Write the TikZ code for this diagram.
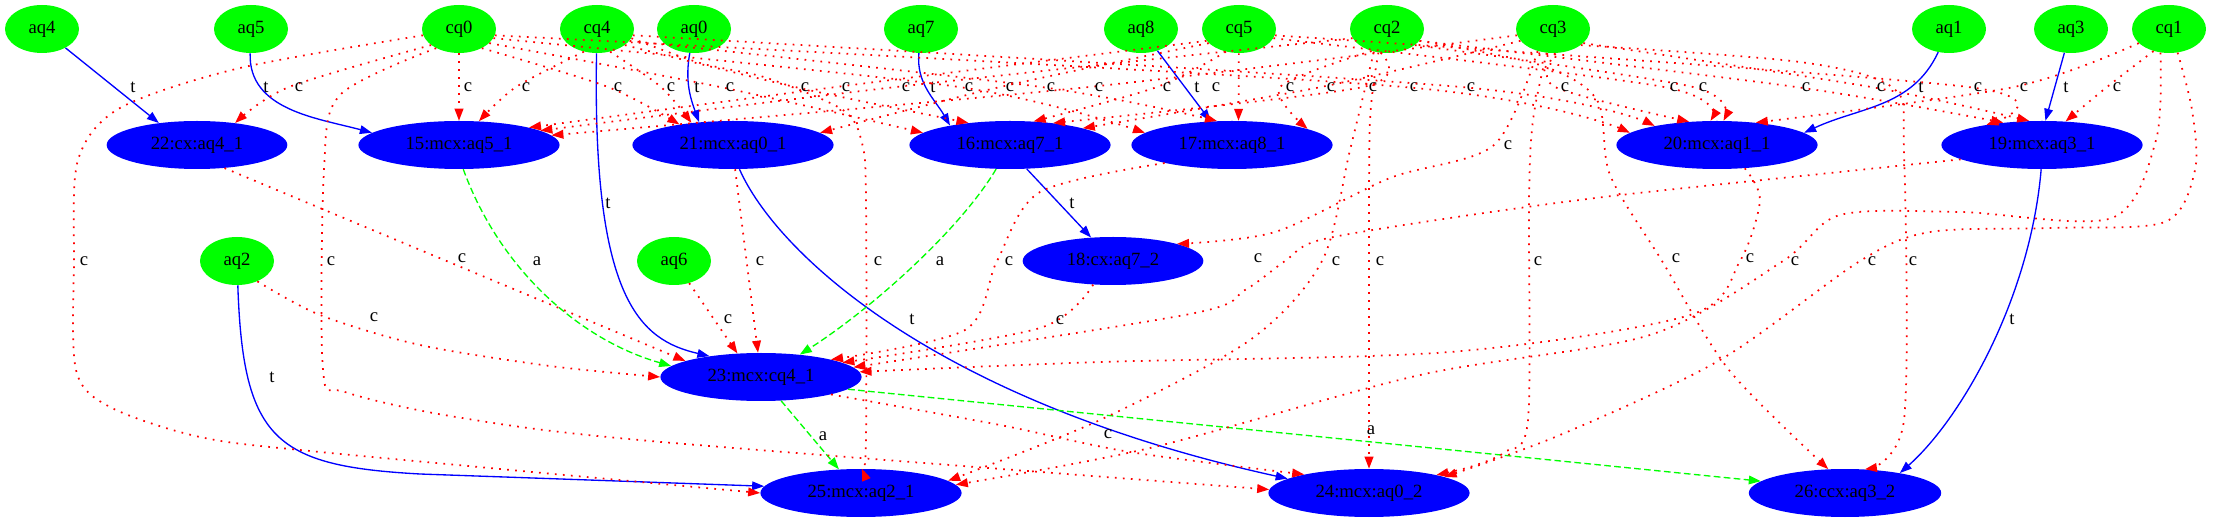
\documentclass[tikz,border=0pt]{standalone}
\usepackage{fontspec}
\setmainfont{Liberation Serif}
\usetikzlibrary{shapes.geometric,arrows.meta}
\begin{document}
\begin{tikzpicture}[x=0.75pt,y=-0.75pt,
    qnode/.style={ellipse,fill=green,minimum width=55.5pt,minimum height=36pt,inner sep=1pt,font=\fontsize{14}{16}\selectfont},
    gate/.style={ellipse,fill=blue,minimum height=36pt,inner xsep=13.3pt,inner ysep=1pt,font=\fontsize{14}{16}\selectfont},
    lab/.style={text=black,inner sep=0pt,font=\fontsize{14}{16}\selectfont},
    cl/.style={red,line width=1.3pt,dash pattern=on 1.3pt off 4.7pt,-{Triangle[length=9pt,width=6.5pt]}},
    tl/.style={blue,line width=1pt,-{Triangle[length=9pt,width=6.5pt]}},
    al/.style={green,line width=1pt,dash pattern=on 5pt off 2.5pt,-{Triangle[length=9pt,width=6.5pt]}}]
\useasboundingbox (0,0) rectangle (2219,523);
% qubits
\node[qnode] (aq4) at (42,29) {aq4};
\node[qnode] (aq5) at (251,29) {aq5};
\node[qnode] (cq0) at (459,29) {cq0};
\node[qnode] (cq4) at (597,29) {cq4};
\node[qnode] (aq0) at (694,29) {aq0};
\node[qnode] (aq7) at (921,29) {aq7};
\node[qnode] (aq8) at (1141,29) {aq8};
\node[qnode] (cq5) at (1239,29) {cq5};
\node[qnode] (cq2) at (1387,29) {cq2};
\node[qnode] (cq3) at (1553,29) {cq3};
\node[qnode] (aq1) at (1949,29) {aq1};
\node[qnode] (aq3) at (2071,29) {aq3};
\node[qnode] (cq1) at (2169,29) {cq1};
\node[qnode] (aq2) at (237,261) {aq2};
\node[qnode] (aq6) at (674,261) {aq6};
% gates
\node[gate] (g22) at (197,145) {22:cx:aq4\_1};
\node[gate] (g15) at (459,145) {15:mcx:aq5\_1};
\node[gate] (g21) at (733,145) {21:mcx:aq0\_1};
\node[gate] (g16) at (1010,145) {16:mcx:aq7\_1};
\node[gate] (g17) at (1232,145) {17:mcx:aq8\_1};
\node[gate] (g20) at (1717,145) {20:mcx:aq1\_1};
\node[gate] (g19) at (2042,145) {19:mcx:aq3\_1};
\node[gate] (g18) at (1113,261) {18:cx:aq7\_2};
\node[gate] (g23) at (761,377) {23:mcx:cq4\_1};
\node[gate] (g25) at (861,493) {25:mcx:aq2\_1};
\node[gate] (g24) at (1369,493) {24:mcx:aq0\_2};
\node[gate] (g26) at (1845,493) {26:ccx:aq3\_2};
% targets
\draw[tl] (aq4) -- (g22.150) node[lab] at (133,87) {t};
\draw[tl] (aq5) to[out=-92,in=165] (g15.172) node[lab] at (266,87) {t};
\draw[tl] (aq0) to[out=-100,in=110] (g21.146) node[lab] at (697,87) {t};
\draw[tl] (aq7) to[out=-95,in=120] (g16.162) node[lab] at (933,87) {t};
\draw[tl] (aq8) -- (g17.132) node[lab] at (1197,87) {t};
\draw[tl] (aq1) to[out=-115,in=25] (g20.8) node[lab] at (1921,87) {t};
\draw[tl] (aq3) -- (g19.82) node[lab] at (2066,87) {t};
\draw[tl] (cq4) .. controls (592,300) and (640,340) .. (g23.158) node[lab] at (608,203) {t};
\draw[tl] (g16.-55) -- (g18.133) node[lab] at (1072,203) {t};
\draw[tl] (g21.-75) .. controls (775,250) and (930,400) .. (g24.170) node[lab] at (912,319) {t};
\draw[tl] (aq2) .. controls (243,440) and (275,466) .. (420,474) -- (g25.176) node[lab] at (272,377) {t};
\draw[tl] (g19.-92) .. controls (2030,300) and (1960,420) .. (g26.20) node[lab] at (2012,319) {t};
% ancillas
\draw[al] (g15.-80) .. controls (500,270) and (580,340) .. (g23.173) node[lab] at (537,261) {a};
\draw[al] (g16.-120) .. controls (960,230) and (870,310) .. (g23.30) node[lab] at (940,261) {a};
\draw[al] (g23) -- (g25.133) node[lab] at (823,436) {a};
\draw[al] (g23.-8) -- (g26.172) node[lab] at (1371,430) {a};
% controls to the first row
\draw[cl] plot[smooth] coordinates {(cq0.210) (289,87) (g22.30)} node[lab] at (299,87) {c};
\draw[cl] (cq0) -- (g15) node[lab] at (468,87) {c};
\draw[cl] plot[smooth] coordinates {(cq4.240) (516,87) (g15.50)} node[lab] at (526,87) {c};
\draw[cl] plot[smooth] coordinates {(cq0.320) (608,87) (g21.159)} node[lab] at (618,87) {c};
\draw[cl] plot[smooth] coordinates {(cq4.300) (661,87) (g21.152)} node[lab] at (671,87) {c};
\draw[cl] plot[smooth] coordinates {(cq0.335) (720,87) (g16.172)} node[lab] at (730,87) {c};
\draw[cl] plot[smooth] coordinates {(cq4.330) (795,87) (g16.152)} node[lab] at (805,87) {c};
\draw[cl] plot[smooth] coordinates {(cq5.200) (836,87) (g15.14)} node[lab] at (846,87) {c};
\draw[cl] plot[smooth] coordinates {(cq2.195) (896,87) (g15.10)} node[lab] at (906,87) {c};
\draw[cl] plot[smooth] coordinates {(cq0.345) (959,87) (g17.172)} node[lab] at (969,87) {c};
\draw[cl] plot[smooth] coordinates {(cq5.205) (1000,87) (g21.8)} node[lab] at (1010,87) {c};
\draw[cl] plot[smooth] coordinates {(cq4.340) (1041,87) (g17.122)} node[lab] at (1051,87) {c};
\draw[cl] plot[smooth] coordinates {(cq3.190) (1089,87) (g15.6)} node[lab] at (1099,87) {c};
\draw[cl] plot[smooth] coordinates {(cq5.240) (1157,87) (g16.45)} node[lab] at (1167,87) {c};
\draw[cl] (cq5) -- (g17.75) node[lab] at (1216,87) {c};
\draw[cl] plot[smooth] coordinates {(cq2.235) (1280,87) (g17.12)} node[lab] at (1290,87) {c};
\draw[cl] plot[smooth] coordinates {(cq3.200) (1321,87) (g16.13)} node[lab] at (1331,87) {c};
\draw[cl] plot[smooth] coordinates {(cq2.255) (1363,87) (g16.27)} node[lab] at (1373,87) {c};
\draw[cl] plot[smooth] coordinates {(cq0.350) (1404,87) (g20.172)} node[lab] at (1414,87) {c};
\draw[cl] plot[smooth] coordinates {(cq4.350) (1461,87) (g20.163)} node[lab] at (1471,87) {c};
\draw[cl] plot[smooth] coordinates {(cq3.275) (1555,87) (g20.140)} node[lab] at (1565,87) {c};
\draw[cl] plot[smooth] coordinates {(cq5.345) (1664,87) (g20.105)} node[lab] at (1674,87) {c};
\draw[cl] plot[smooth] coordinates {(cq2.330) (1693,87) (g20.75)} node[lab] at (1703,87) {c};
\draw[cl] plot[smooth] coordinates {(cq2.340) (1796,87) (g19.150)} node[lab] at (1806,87) {c};
\draw[cl] plot[smooth] coordinates {(cq3.335) (1871,87) (g19.118)} node[lab] at (1881,87) {c};
\draw[cl] plot[smooth] coordinates {(cq5.350) (1968,87) (g19.160)} node[lab] at (1978,87) {c};
\draw[cl] plot[smooth] coordinates {(cq1.205) (2014,87) (g20.30)} node[lab] at (2024,87) {c};
\draw[cl] plot[smooth] coordinates {(cq1.235) (2107,87) (g19.45)} node[lab] at (2117,87) {c};
\draw[cl] plot[smooth] coordinates {(cq3.235) (1494,145) (1390,178) (1275,232) (g18.15)} node[lab] at (1508,145) {c};
% long controls
\draw[cl] plot[smooth] coordinates {(cq0.190) (240,68) (120,108) (78,160) (74,260) (76,370) (110,407) (200,437) (320,452) (g25.180)} node[lab] at (84,261) {c};
\draw[cl] plot[smooth] coordinates {(cq0.220) (340,95) (324,170) (323,370) (345,392) (456,417) (650,441) (g24.178)} node[lab] at (331,261) {c};
\draw[cl] plot[smooth] coordinates {(cq4.345) (700,63) (767,78) (843,110) (862,143) (866,200) (866,440) (g25.88)} node[lab] at (878,261) {c};
\draw[cl] plot[smooth] coordinates {(cq2.250) (1370,120) (1369,261) (1369,400) (g24.90)} node[lab] at (1380,261) {c};
\draw[cl] plot[smooth] coordinates {(cq2.240) (1350,150) (1322,261) (1250,340) (1100,420) (g25.8)} node[lab] at (1336,261) {c};
\draw[cl] plot[smooth] coordinates {(cq3.255) (1533,120) (1529,200) (1528,420) (1505,452) (1470,467) (g24.15)} node[lab] at (1538,261) {c};
\draw[cl] plot[smooth] coordinates {(cq1.250) (2156,140) (2112,218) (1960,212) (1840,215) (1783,261) (1650,335) (1420,375) (1150,448) (g25.5)} node[lab] at (1795,261) {c};
\draw[cl] plot[smooth] coordinates {(cq1.290) (2192,110) (2195,170) (2165,222) (2050,228) (1930,232) (1860,261) (1720,360) (1560,435) (g24.12)} node[lab] at (1872,261) {c};
\draw[cl] plot[smooth] coordinates {(cq2.340) (1540,65) (1597,100) (1610,175) (1662,261) (1729,370) (g26.125)} node[lab] at (1676,258) {c};
\draw[cl] plot[smooth] coordinates {(cq3.330) (1800,62) (1893,88) (1904,150) (1904,420) (g26.50)} node[lab] at (1913,261) {c};
% gate outputs as controls
\draw[cl] (g22.-40) -- (g23.168) node[lab] at (462,258) {c};
\draw[cl] (g21.-85) -- (g23.97) node[lab] at (760,261) {c};
\draw[cl] plot[smooth] coordinates {(g17.195) (1040,192) (997,261) (965,330) (g23.14)} node[lab] at (1009,261) {c};
\draw[cl] plot[smooth] coordinates {(g19.190) (1830,173) (1612,196) (1450,218) (1320,240) (1285,261) (1245,290) (1190,314) (g23.6)} node[lab] at (1258,258) {c};
\draw[cl] plot[smooth] coordinates {(g20.-40) (1760,200) (1740,261) (1690,315) (1450,352) (1100,362) (g23.3)} node[lab] at (1750,258) {c};
\draw[cl] plot[smooth] coordinates {(g18.-130) (1040,328) (g23.10)} node[lab] at (1060,320) {c};
\draw[cl] (aq6) -- (g23.135) node[lab] at (728,319) {c};
\draw[cl] plot[smooth] coordinates {(aq2.315) (320,315) (420,345) (550,366) (g23.180)} node[lab] at (374,317) {c};
\draw[cl] plot[smooth] coordinates {(g23.-14) (1000,425) (1130,452) (g24.164)} node[lab] at (1108,434) {c};
\end{tikzpicture}
\end{document}
